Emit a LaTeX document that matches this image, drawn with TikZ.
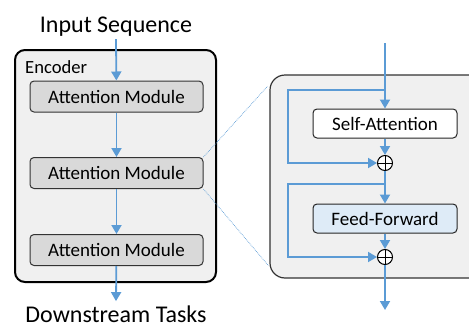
\documentclass[tikz,border=0pt]{standalone}
\usepackage{fontspec}
\setmainfont{Carlito}
\usetikzlibrary{arrows.meta,calc}
\definecolor{flowblue}{HTML}{5B9BD5}
\definecolor{panelgray}{HTML}{F0F0F0}
\definecolor{modgray}{HTML}{D9D9D9}
\definecolor{ffblue}{HTML}{DEEBF7}
\tikzset{
	flow/.style={flowblue, line width=1.8pt, -{Triangle[length=9pt,width=10pt]}},
	zoomline/.style={flowblue, line width=0.7pt, densely dotted},
	caption/.style={font=\fontsize{24}{28}\selectfont, inner sep=3pt},
	modbox/.style={draw=black!80, line width=1pt, rounded corners=4pt, fill=modgray,
		minimum width=173pt, minimum height=31pt, font=\fontsize{19}{22}\selectfont},
	layerbox/.style={draw=black!85, line width=1pt, rounded corners=4pt, fill=white,
		minimum width=144pt, minimum height=29pt, font=\fontsize{19}{22}\selectfont},
	addop/.style={circle, draw=black, line width=1pt, fill=white, minimum size=15pt, inner sep=0pt,
		path picture={\draw[line width=1pt] (path picture bounding box.north) -- (path picture bounding box.south)
			(path picture bounding box.west) -- (path picture bounding box.east);}}
}

\begin{document}
\begin{tikzpicture}[x=1pt, y=-1pt]
		%%%%% START %%%%%
		\useasboundingbox (0,0) rectangle (469,327);
		
		% encoder
		\node[draw=black, line width=2pt, rounded corners=10pt, fill=panelgray,
			minimum width=201pt, minimum height=232pt] (enc) at (115.5,166) {};
		\node[anchor=base west, inner sep=0pt, font=\fontsize{18.6}{22}\selectfont] (enclabel) at (25,73) {Encoder};
		
		\node[modbox] (am1) at (116.5,96.5) {Attention Module};
		\node[modbox] (am2) at (116.5,173) {Attention Module};
		\node[modbox] (am3) at (116.5,250) {Attention Module};
		
		\node[caption, anchor=base] (inseq) at (116,32) {Input Sequence};
		\node[caption, anchor=base, inner sep=4pt] (tasks) at (116,322) {Downstream Tasks};
		
		\draw[flow] (inseq.south) -- (am1);
		\draw[flow] (am1) -- (am2);
		\draw[flow] (am2) -- (am3);
		\draw[flow] (am3) -- (tasks.north);
		
		% zoomed attention module
		\node[draw=black!80, line width=1.2pt, rounded corners=15pt, fill=panelgray,
			minimum width=215pt, minimum height=203pt] (panel) at (377.5,176.5) {};
		
		\draw[zoomline] (am2.north east) -- ($(panel.north west)+(-2,12)$);
		\draw[zoomline] (am2.south east) -- ($(panel.south west)+(-1,-13)$);
		
		\node[layerbox] (sa) at (385,123.5) {Self-Attention};
		\node[layerbox, fill=ffblue] (ff) at (385,218.5) {Feed-Forward};
		\node[addop] (add1) at (385,163) {};
		\node[addop] (add2) at (385,257) {};
		
		\coordinate (top) at (385,43);
		\coordinate (res1) at (385,90);
		\coordinate (res2) at (385,184);
		\coordinate (bot) at (385,310);
		
		\draw[flow] (top) -- (sa);
		\draw[flow] (sa) -- (add1);
		\draw[flow] (res1) -- ++(-97,0) |- (add1);
		\draw[flow] (add1) -- (ff);
		\draw[flow] (ff) -- (add2);
		\draw[flow] (res2) -- ++(-97,0) |- (add2);
		\draw[flow] (add2) -- (bot);
		
		%%%%% END %%%%%
	\end{tikzpicture}
\end{document}
